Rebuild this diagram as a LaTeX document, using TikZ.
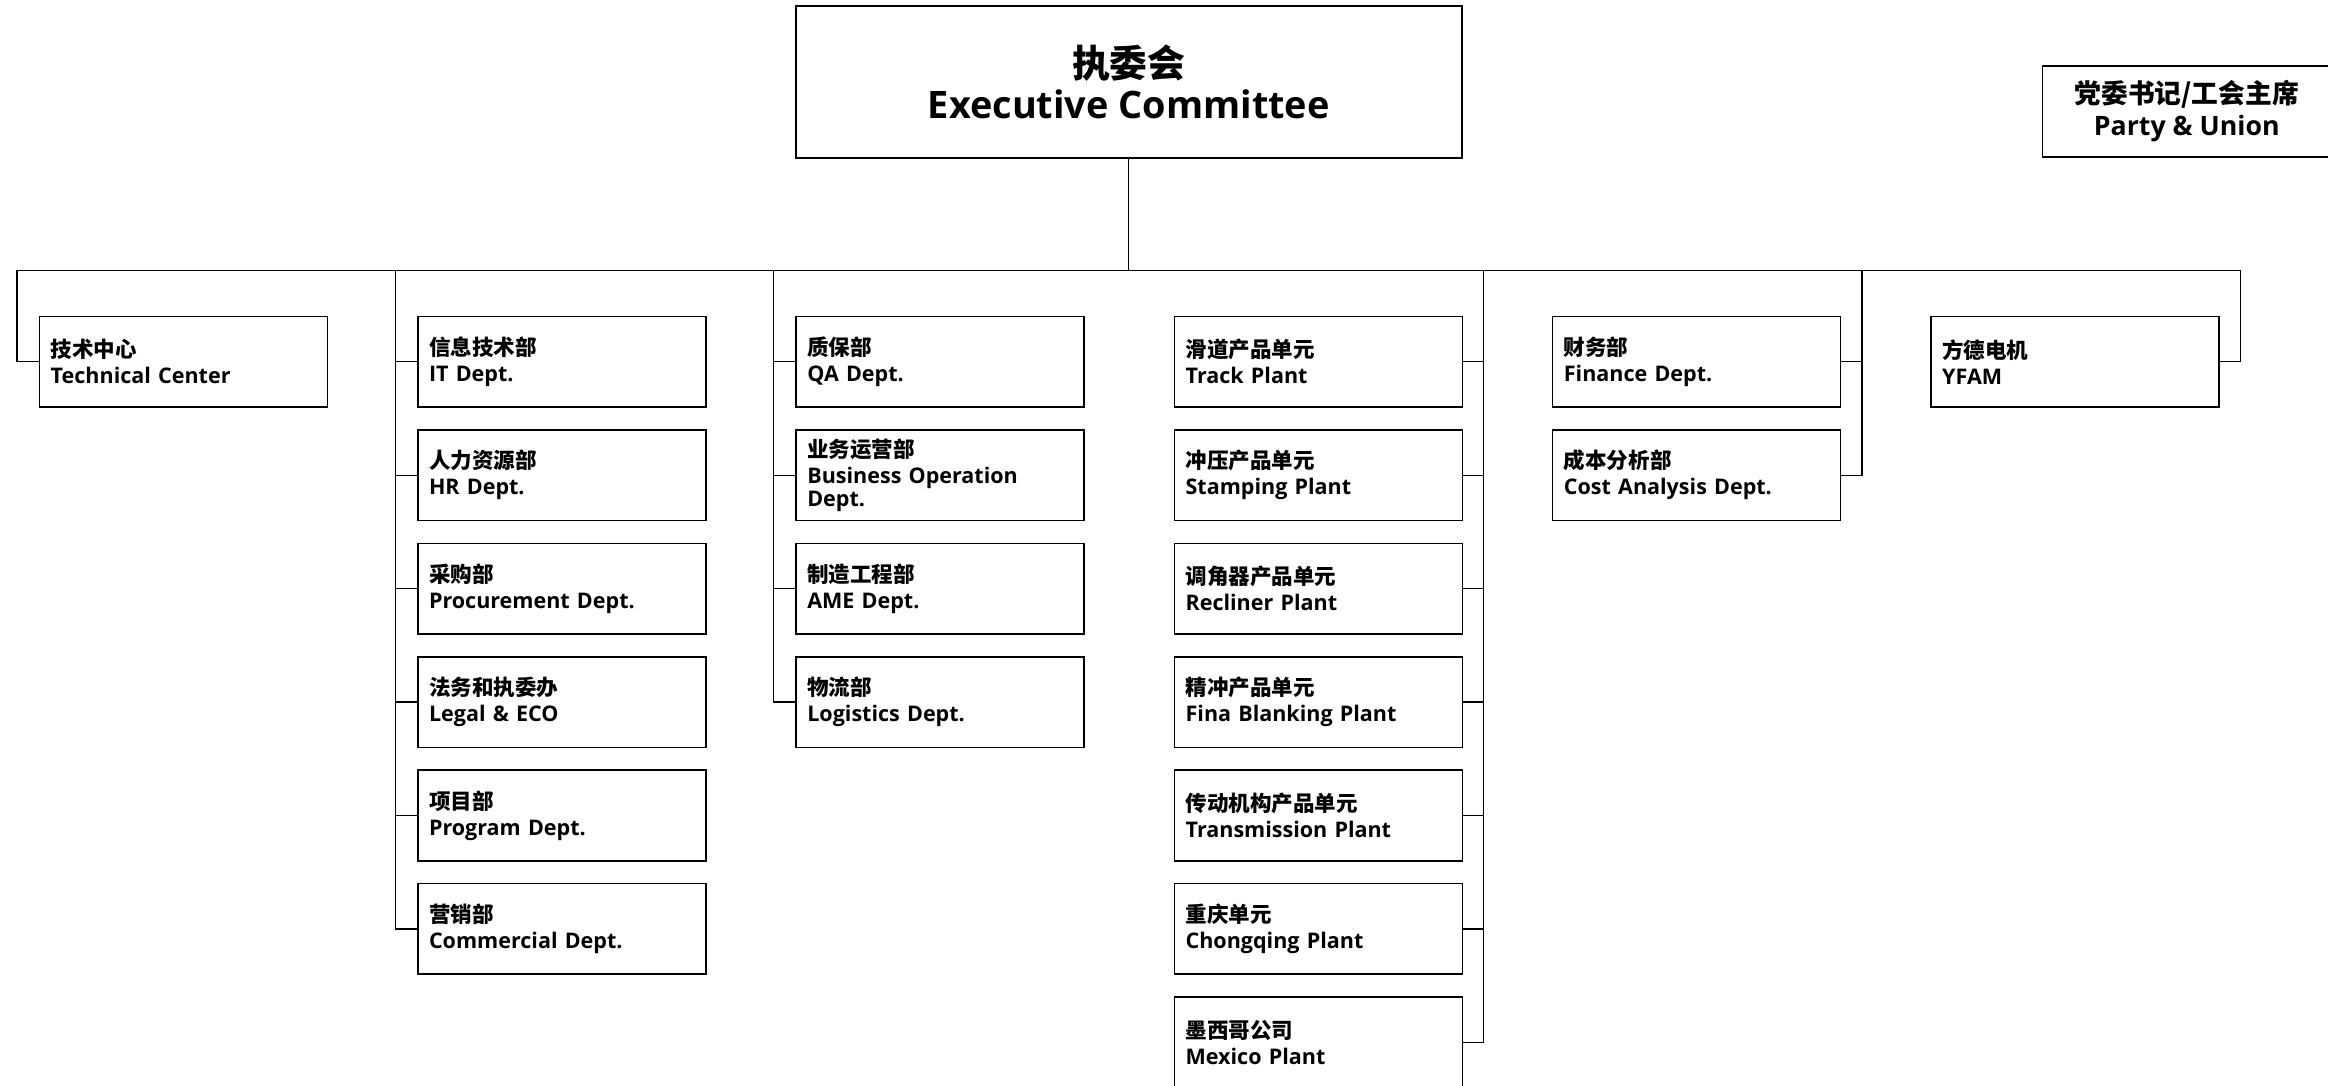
\documentclass[tikz,border=0pt]{standalone}
\usepackage{fontspec}
\setmainfont{Open Sans}
\newfontfamily\cjk{Noto Sans CJK SC}
\newcommand{\deptlabel}[2]{{\cjk #1}\\[2pt]#2}
\tikzset{
  unitbox/.style={draw, line width=1.1pt, rectangle, anchor=north west,
    text width=178.8pt, inner xsep=7.6pt, inner ysep=0pt, minimum height=61pt,
    align=left, font=\bfseries\fontsize{14.5}{15.5}\selectfont},
  link/.style={draw, line width=0.9pt},
}
\begin{document}
\begin{tikzpicture}[x=1pt,y=-1pt]
\useasboundingbox (0,0) rectangle (1568,730.8);
% top
\node[draw, line width=1.1pt, minimum width=448.7pt, minimum height=102.4pt, inner sep=0pt,
  align=center, font=\bfseries\fontsize{25.5}{27}\selectfont] (exec) at (760.3,55.1)
  {{\cjk 执委会}\\Executive Committee};
\node[draw, line width=1.1pt, minimum width=194.2pt, minimum height=61.3pt, inner sep=0pt,
  align=center, font=\bfseries\fontsize{18}{22}\selectfont] (party) at (1472.9,74.9)
  {{\cjk 党委书记/工会主席}\\Party \& Union};
% bus coordinates
\coordinate (c1) at (11.5,182);
\coordinate (c2) at (266.3,182);
\coordinate (c3) at (521.1,182);
\coordinate (c4) at (999.4,182);
\coordinate (c5) at (1254.2,182);
\coordinate (c6) at (1509,182);
% column 1
\node[unitbox] (t1) at (26,212.6) {\deptlabel{技术中心}{Technical Center}};
% column 2
\node[unitbox] (i1) at (280.8,212.6) {\deptlabel{信息技术部}{IT Dept.}};
\node[unitbox] (i2) at (280.8,289) {\deptlabel{人力资源部}{HR Dept.}};
\node[unitbox] (i3) at (280.8,365.4) {\deptlabel{采购部}{Procurement Dept.}};
\node[unitbox] (i4) at (280.8,441.8) {\deptlabel{法务和执委办}{Legal \& ECO}};
\node[unitbox] (i5) at (280.8,518.2) {\deptlabel{项目部}{Program Dept.}};
\node[unitbox] (i6) at (280.8,594.6) {\deptlabel{营销部}{Commercial Dept.}};
% column 3
\node[unitbox] (q1) at (535.6,212.6) {\deptlabel{质保部}{QA Dept.}};
\node[unitbox] (q2) at (535.6,289) {\deptlabel{业务运营部}{Business Operation\\Dept.}};
\node[unitbox] (q3) at (535.6,365.4) {\deptlabel{制造工程部}{AME Dept.}};
\node[unitbox] (q4) at (535.6,441.8) {\deptlabel{物流部}{Logistics Dept.}};
% column 4
\node[unitbox] (p1) at (790.4,212.6) {\deptlabel{滑道产品单元}{Track Plant}};
\node[unitbox] (p2) at (790.4,289) {\deptlabel{冲压产品单元}{Stamping Plant}};
\node[unitbox] (p3) at (790.4,365.4) {\deptlabel{调角器产品单元}{Recliner Plant}};
\node[unitbox] (p4) at (790.4,441.8) {\deptlabel{精冲产品单元}{Fina Blanking Plant}};
\node[unitbox] (p5) at (790.4,518.2) {\deptlabel{传动机构产品单元}{Transmission Plant}};
\node[unitbox] (p6) at (790.4,594.6) {\deptlabel{重庆单元}{Chongqing Plant}};
\node[unitbox] (p7) at (790.4,671) {\deptlabel{墨西哥公司}{Mexico Plant}};
% column 5
\node[unitbox] (f1) at (1045.2,212.6) {\deptlabel{财务部}{Finance Dept.}};
\node[unitbox] (f2) at (1045.2,289) {\deptlabel{成本分析部}{Cost Analysis Dept.}};
% column 6
\node[unitbox] (y1) at (1300,212.6) {\deptlabel{方德电机}{YFAM}};
% connectors
\draw[link] (exec.south) -- (exec.south |- c1);
\draw[link] (c1) -- (c6);
\draw[link] (c1) |- (t1.west);
\foreach \n in {i1,i2,i3,i4,i5,i6} {\draw[link] (c2) |- (\n.west);}
\foreach \n in {q1,q2,q3,q4} {\draw[link] (c3) |- (\n.west);}
\foreach \n in {p1,p2,p3,p4,p5,p6,p7} {\draw[link] (c4) |- (\n.east);}
\foreach \n in {f1,f2} {\draw[link] (c5) |- (\n.east);}
\draw[link] (c6) |- (y1.east);
\end{tikzpicture}
\end{document}
